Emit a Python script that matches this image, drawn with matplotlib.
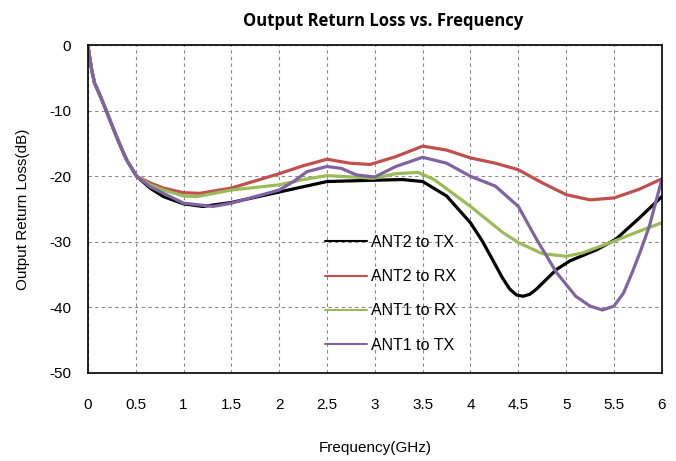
#!/usr/bin/env python3
"""Output Return Loss vs. Frequency"""

import matplotlib.pyplot as plt

# start of the sweep is shared by all four traces
f_start = [0, 0.02, 0.04, 0.07, 0.125, 0.195, 0.265, 0.335, 0.405, 0.51]
db_start = [0, -2.0, -3.8, -5.8, -7.6, -10.1, -12.7, -15.2, -17.5, -20.0]

f_ant2_tx = f_start + [0.65, 0.79, 1.0, 1.2, 1.5, 2.0, 2.25, 2.5, 2.75, 3.0, 3.29, 3.5,
                       3.75, 4.0, 4.12, 4.23, 4.33, 4.41, 4.48, 4.55, 4.62, 4.69, 4.9, 5.04, 5.32, 5.52, 5.77, 6.0]
db_ant2_tx = db_start + [-21.8, -23.1, -24.2, -24.6, -24.0, -22.4, -21.6, -20.8, -20.7, -20.6, -20.5, -20.8,
                         -23.0, -27.1, -29.8, -32.7, -35.4, -37.2, -38.1, -38.3, -38.0, -37.2, -34.2, -32.9, -31.2, -29.6, -26.3, -23.1]

f_ant2_rx = f_start + [0.65, 0.79, 1.0, 1.17, 1.5, 2.0, 2.25, 2.5, 2.74, 2.95, 3.22, 3.5,
                       3.75, 4.0, 4.26, 4.5, 4.75, 5.0, 5.25, 5.5, 5.76, 6.0]
db_ant2_rx = db_start + [-21.0, -21.8, -22.5, -22.6, -21.8, -19.6, -18.4, -17.4, -18.0, -18.2, -17.0, -15.4,
                         -16.0, -17.2, -18.0, -19.0, -21.0, -22.8, -23.6, -23.3, -22.0, -20.4]

f_ant1_rx = f_start + [0.65, 0.79, 1.0, 1.14, 1.5, 2.0, 2.25, 2.5, 2.75, 2.99, 3.22, 3.45,
                       3.62, 4.0, 4.34, 4.5, 4.75, 5.0, 5.17, 5.5, 5.76, 6.0]
db_ant1_rx = db_start + [-21.3, -22.1, -23.0, -23.1, -22.1, -21.3, -20.5, -19.9, -20.1, -20.3, -19.6, -19.4,
                         -20.5, -24.6, -28.6, -30.1, -31.8, -32.2, -31.7, -29.9, -28.4, -27.1]

f_ant1_tx = f_start + [0.65, 0.79, 1.0, 1.31, 1.5, 2.0, 2.15, 2.29, 2.5, 2.65, 2.81, 3.0, 3.22, 3.5,
                       3.75, 4.0, 4.26, 4.5, 4.69, 4.9, 5.1, 5.25, 5.38, 5.5, 5.6, 5.69, 5.78, 5.87, 6.0]
db_ant1_tx = db_start + [-21.6, -22.6, -24.1, -24.6, -24.1, -22.1, -20.8, -19.3, -18.5, -18.8, -19.8, -20.1, -18.5, -17.1,
                         -18.0, -20.0, -21.5, -24.6, -29.6, -34.7, -38.3, -39.8, -40.4, -39.8, -37.8, -34.7, -31.3, -27.6, -20.5]

labels = ['ANT2 to TX', 'ANT2 to RX', 'ANT1 to RX', 'ANT1 to TX']
colors = ['#000000', '#C0504D', '#9BBB59', '#8064A2']
x_ticks = [0, 0.5, 1, 1.5, 2, 2.5, 3, 3.5, 4, 4.5, 5, 5.5, 6]
x_ticklabels = ['0', '0.5', '1', '1.5', '2', '2.5', '3', '3.5', '4', '4.5', '5', '5.5', '6']
y_ticks = [0, -10, -20, -30, -40, -50]


def main():
    plt.rcParams['font.family'] = ['Liberation Sans', 'DejaVu Sans']
    plt.rcParams['axes.unicode_minus'] = False

    fig = plt.figure(figsize=(6.76, 4.61), dpi=100)
    ax = fig.add_axes([0.130, 0.191, 0.849, 0.711])

    series = [(f_ant2_tx, db_ant2_tx), (f_ant2_rx, db_ant2_rx),
              (f_ant1_rx, db_ant1_rx), (f_ant1_tx, db_ant1_tx)]
    handles = []
    for (f, db), lab, col in zip(series, labels, colors):
        line, = ax.plot(f, db, color=col, lw=2.3, label=lab,
                        solid_joinstyle='round', solid_capstyle='round')
        handles.append(line)

    ax.set_xlim(0, 6)
    ax.set_ylim(-50, 0)
    ax.set_xticks(x_ticks)
    ax.set_xticklabels(x_ticklabels)
    ax.set_yticks(y_ticks)
    ax.tick_params(axis='both', length=0, labelsize=11)
    ax.tick_params(axis='x', pad=18)
    ax.tick_params(axis='y', pad=12)
    ax.grid(True, color='#888888', linestyle=(0, (3, 3)), lw=0.8)
    for sp in ax.spines.values():
        sp.set_color('black')
        sp.set_linewidth(1.2)

    ax.set_title('Output Return Loss vs. Frequency', fontsize=12, fontweight='bold',
                 family=['Open Sans', 'DejaVu Sans'], pad=14, x=0.515)
    ax.set_xlabel('Frequency(GHz)', fontsize=11, labelpad=21)
    ax.set_ylabel('Output Return Loss(dB)', fontsize=11, labelpad=14)

    leg = ax.legend(handles=handles, loc='upper left', bbox_to_anchor=(0.4, 0.445),
                    frameon=False, fontsize=11.5, handlelength=2.6, handletextpad=0.25,
                    labelspacing=1.2, borderpad=0)
    for h in leg.legend_handles:
        h.set_linewidth(1.5)

    fig.savefig('out.png', dpi=100)


if __name__ == "__main__":
    main()
